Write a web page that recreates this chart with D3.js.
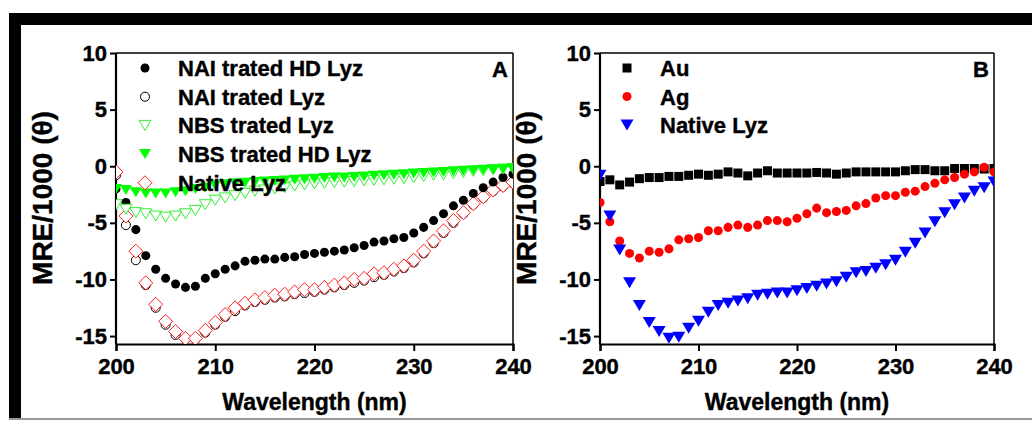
<!DOCTYPE html>
<html>
<head>
<meta charset="utf-8">
<script src="https://d3js.org/d3.v7.min.js"></script>
<style>
  body { margin: 0; background: #fff; }
  svg text { font-family: "Liberation Sans", Arial, sans-serif; font-weight: bold; fill: #000; stroke: #000; stroke-width: 0.4px; }
</style>
</head>
<body>
<svg width="1032" height="421"></svg>
<script>
var wavelength = d3.range(200, 241);
var xTicks = [200, 210, 220, 230, 240];
var yTicks = [-15, -10, -5, 0, 5, 10];

// panel A series, 200..240 nm
var naiHD = [-2.0,-3.2,-5.6,-7.9,-9.1,-9.9,-10.4,-10.7,-10.6,-9.9,
  -9.5,-9.1,-8.8,-8.4,-8.3,-8.2,-8.2,-8.05,-8.0,-7.8,
  -7.7,-7.6,-7.5,-7.4,-7.2,-7.0,-6.7,-6.6,-6.4,-6.3,
  -5.9,-5.4,-4.8,-4.2,-3.5,-3.0,-2.4,-1.9,-1.4,-1.0,-0.7];
var naiLyz = [-0.8,-5.2,-8.3,-10.5,-12.5,-14.0,-14.9,-15.3,-15.3,-14.7,
  -14.0,-13.3,-12.8,-12.3,-12.0,-11.8,-11.6,-11.5,-11.3,-11.2,
  -11.1,-10.9,-10.7,-10.5,-10.3,-10.1,-9.8,-9.6,-9.3,-9.0,
  -8.5,-7.7,-6.8,-5.9,-5.0,-4.2,-3.4,-2.8,-2.2,-1.8,-1.5];
var nbsLyz = [-3.4,-3.8,-4.1,-4.2,-4.4,-4.5,-4.4,-4.2,-3.9,-3.4,
  -3.0,-2.8,-2.6,-2.4,-2.2,-2.1,-2.0,-1.9,-1.75,-1.65,
  -1.55,-1.5,-1.45,-1.4,-1.35,-1.3,-1.25,-1.2,-1.15,-1.1,
  -1.0,-0.9,-0.8,-0.75,-0.65,-0.55,-0.45,-0.4,-0.3,-0.25,-0.2];
var nbsHD = [-2.0,-2.1,-2.3,-2.4,-2.4,-2.4,-2.3,-2.2,-2.0,-1.9,
  -1.7,-1.6,-1.5,-1.45,-1.4,-1.35,-1.3,-1.25,-1.2,-1.15,
  -1.1,-1.05,-1.0,-1.0,-0.95,-0.9,-0.85,-0.8,-0.75,-0.7,
  -0.65,-0.6,-0.55,-0.5,-0.45,-0.4,-0.35,-0.3,-0.3,-0.25,-0.2];
var nativeA = [-0.5,-4.4,-7.5,-10.3,-12.2,-13.7,-14.6,-15.2,-15.2,-14.5,
  -13.8,-13.1,-12.5,-12.1,-11.8,-11.6,-11.4,-11.3,-11.1,-10.9,
  -10.9,-10.7,-10.5,-10.3,-10.0,-9.9,-9.5,-9.4,-9.1,-8.8,
  -8.3,-7.5,-6.6,-5.7,-4.8,-4.1,-3.3,-2.7,-2.1,-1.7,-1.4];

// panel B series
var au = [-1.35,-1.2,-1.65,-1.4,-1.1,-1.0,-1.0,-0.9,-0.9,-0.8,
  -0.7,-0.8,-0.7,-0.5,-0.6,-0.85,-0.6,-0.4,-0.6,-0.6,
  -0.6,-0.6,-0.55,-0.6,-0.7,-0.6,-0.5,-0.5,-0.5,-0.5,
  -0.5,-0.4,-0.3,-0.3,-0.4,-0.4,-0.2,-0.2,-0.2,-0.25,-0.2];
var ag = [-3.2,-4.9,-6.6,-7.7,-8.1,-7.5,-7.6,-7.3,-6.5,-6.4,
  -6.3,-5.7,-5.7,-5.4,-5.2,-5.4,-5.2,-4.8,-4.8,-4.9,
  -4.6,-4.2,-3.7,-4.1,-4.0,-3.9,-3.5,-3.3,-2.8,-2.6,
  -2.6,-2.3,-2.2,-1.8,-1.5,-1.2,-1.0,-0.7,-0.5,-0.1,-0.5];
var nativeB = [-0.8,-4.4,-7.4,-10.3,-12.3,-13.8,-14.6,-15.2,-15.1,-14.3,
  -13.7,-12.9,-12.3,-12.1,-11.9,-11.7,-11.4,-11.3,-11.2,-11.2,
  -11.0,-10.8,-10.6,-10.4,-10.2,-9.8,-9.4,-9.3,-9.0,-8.7,
  -8.3,-7.6,-6.8,-5.9,-4.9,-4.1,-3.4,-2.8,-2.2,-1.9,-1.4];

var svg = d3.select("svg");

// outer frame of the figure
svg.append("rect").attr("x", 9).attr("y", 13).attr("width", 1023).attr("height", 12).attr("fill", "#000");
svg.append("rect").attr("x", 9).attr("y", 13).attr("width", 12).attr("height", 406).attr("fill", "#000");
svg.append("line").attr("x1", 9).attr("x2", 1032).attr("y1", 419).attr("y2", 419)
  .attr("stroke", "#999").attr("stroke-width", 2);

// custom marker shapes
var triDown = function(w, h) {
  return { draw: function(ctx) {
    ctx.moveTo(-w / 2, -h / 2); ctx.lineTo(w / 2, -h / 2); ctx.lineTo(0, h / 2); ctx.closePath();
  }};
};
var diamond = function(r) {
  return { draw: function(ctx) {
    ctx.moveTo(0, -r); ctx.lineTo(r, 0); ctx.lineTo(0, r); ctx.lineTo(-r, 0); ctx.closePath();
  }};
};
var square = function(s) {
  return { draw: function(ctx) { ctx.rect(-s / 2, -s / 2, s, s); } };
};

function drawPanel(p) {
  var x = d3.scaleLinear().domain([200, 240]).range([p.left, p.right]);
  var y = d3.scaleLinear().domain([-15.7, 10]).range([344, 53]);
  var g = svg.append("g");

  var clipId = "clip" + p.letter;
  svg.append("clipPath").attr("id", clipId).append("rect")
    .attr("x", p.left).attr("y", 40).attr("width", p.right - p.left).attr("height", 304);

  // frame top / right
  g.append("line").attr("x1", p.left).attr("x2", p.right).attr("y1", 53).attr("y2", 53)
    .attr("stroke", "#000").attr("stroke-width", 1.5);
  g.append("line").attr("x1", p.right).attr("x2", p.right).attr("y1", 53).attr("y2", 344)
    .attr("stroke", "#000").attr("stroke-width", 1.5);

  var yAxis = g.append("g").attr("transform", "translate(" + p.left + ",0)")
    .call(d3.axisLeft(y).tickValues(yTicks).tickSizeOuter(0).tickSize(6).tickPadding(3)
      .tickFormat(function(d) { return String(d); }));
  var xAxis = g.append("g").attr("transform", "translate(0,344)")
    .call(d3.axisBottom(x).tickValues(xTicks).tickSizeOuter(0).tickSize(7).tickPadding(7)
      .tickFormat(function(d) { return String(d); }));
  [yAxis, xAxis].forEach(function(a) {
    a.select(".domain").attr("stroke-width", 2.2);
    a.selectAll(".tick line").attr("stroke-width", 2);
    a.selectAll("text").attr("font-size", 22).attr("font-family", null).attr("fill", null);
  });
  yAxis.selectAll(".domain").attr("d", "M0,53V344");

  g.append("text").attr("transform", "translate(" + (p.left - 64) + ",198) rotate(-90)")
    .attr("text-anchor", "middle").attr("font-size", 28).text("MRE/1000 (\u03b8)");
  g.append("text").attr("x", (p.left + p.right) / 2).attr("y", 410)
    .attr("text-anchor", "middle").attr("font-size", 23).text("Wavelength (nm)");
  g.append("text").attr("x", p.right - 13).attr("y", 77)
    .attr("text-anchor", "middle").attr("font-size", 22).text(p.letter);

  var plot = g.append("g").attr("clip-path", "url(#" + clipId + ")");
  p.series.forEach(function(s) {
    plot.append("g").selectAll("path")
      .data(wavelength.map(function(w, i) { return [w, s.values[i]]; }))
      .join("path")
      .attr("transform", function(d) { return "translate(" + x(d[0]) + "," + y(d[1]) + ")"; })
      .attr("d", d3.symbol().type(s.shape))
      .attr("fill", s.fill).attr("stroke", s.stroke).attr("stroke-width", s.sw);
  });

  var leg = g.append("g");
  p.series.slice().sort(function(a, b) { return a.row - b.row; }).forEach(function(s) {
    var ly = 68 + s.row * p.rowGap;
    leg.append("path").attr("transform", "translate(" + p.legX + "," + ly + ")")
      .attr("d", d3.symbol().type(s.shape))
      .attr("fill", s.fill).attr("stroke", s.stroke).attr("stroke-width", s.sw);
    leg.append("text").attr("x", p.legX + 33).attr("y", ly + 8)
      .attr("font-size", 22).text(s.name);
  });
}

drawPanel({
  letter: "A", left: 116, right: 513, legX: 145, rowGap: 28.7,
  series: [
    { name: "NAI trated Lyz", values: naiLyz, row: 1, shape: d3.symbolCircle, fill: "#fff", stroke: "#000", sw: 1 },
    { name: "Native Lyz", values: nativeA, row: 4, shape: diamond(7), fill: "#fff", stroke: "#ff2020", sw: 1 },
    { name: "NAI trated HD Lyz", values: naiHD, row: 0, shape: d3.symbolCircle, fill: "#000", stroke: "none", sw: 0 },
    { name: "NBS trated Lyz", values: nbsLyz, row: 2, shape: triDown(12, 10), fill: "#fff", stroke: "#33ee33", sw: 1 },
    { name: "NBS trated HD Lyz", values: nbsHD, row: 3, shape: triDown(12, 10), fill: "#00ff00", stroke: "none", sw: 0 }
  ]
});

drawPanel({
  letter: "B", left: 600, right: 994, legX: 627, rowGap: 28.5,
  series: [
    { name: "Au", values: au, row: 0, shape: square(9), fill: "#000", stroke: "none", sw: 0 },
    { name: "Ag", values: ag, row: 1, shape: d3.symbolCircle, fill: "#ff0000", stroke: "none", sw: 0 },
    { name: "Native Lyz", values: nativeB, row: 2, shape: triDown(13, 11), fill: "#0000ff", stroke: "none", sw: 0 }
  ]
});
</script>
</body>
</html>
